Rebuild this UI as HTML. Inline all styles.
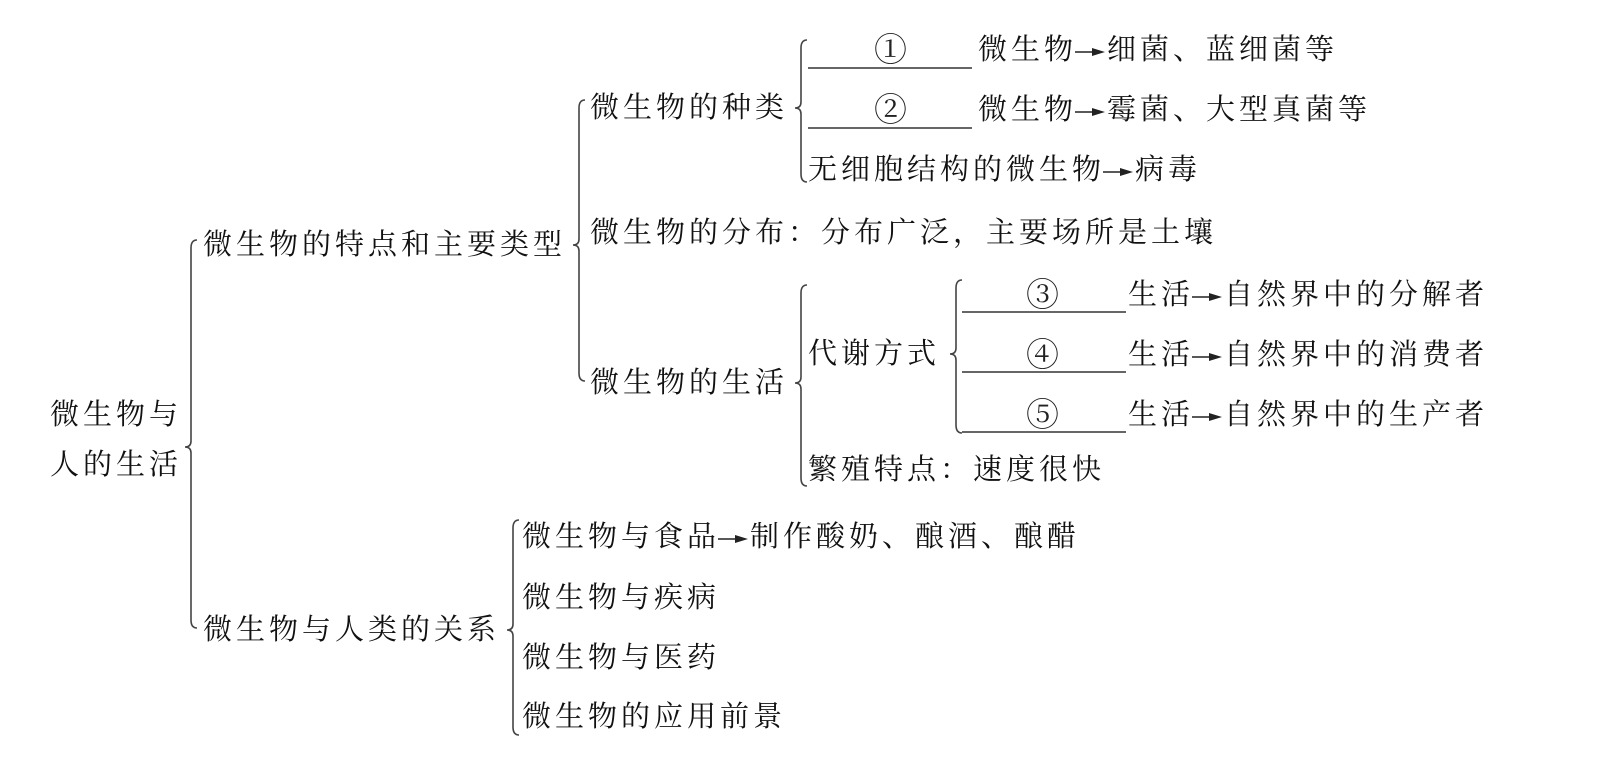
<!DOCTYPE html>
<html><head><meta charset="utf-8"><style>
html,body{margin:0;padding:0;background:#fff;}
body{width:1620px;height:775px;position:relative;overflow:hidden;}
.t{position:absolute;font-family:"Liberation Serif","Noto Serif CJK SC",serif;font-size:29px;letter-spacing:4px;line-height:34px;white-space:nowrap;color:#111;}
.a{display:inline-block;width:32px;height:14px;vertical-align:middle;margin:0 1px 0 -3px;}
.c{position:absolute;font-family:"Noto Serif CJK SC",serif;font-size:33px;line-height:34px;color:#222;}
svg.b{position:absolute;left:0;top:0;}
</style></head><body>
<svg class="b" width="1620" height="775" fill="none" stroke="#444" stroke-width="1.6">
<path d="M197,240 Q191,240 191,248 L191,441 Q191,447 185,447 Q191,447 191,453 L191,620 Q191,628 197,628"/>
<path d="M585,100 Q579,100 579,108 L579,239 Q579,245 573,245 Q579,245 579,251 L579,373 Q579,381 585,381"/>
<path d="M807,40 Q801,40 801,48 L801,102 Q801,108 795,108 Q801,108 801,114 L801,174 Q801,182 807,182"/>
<path d="M807,285 Q801,285 801,293 L801,377 Q801,383 795,383 Q801,383 801,389 L801,478 Q801,486 807,486"/>
<path d="M962,280 Q956,280 956,288 L956,348 Q956,354 950,354 Q956,354 956,360 L956,425 Q956,433 962,433"/>
<path d="M519,520 Q513,520 513,528 L513,624 Q513,630 507,630 Q513,630 513,636 L513,727 Q513,735 519,735"/>
<g stroke="#333" stroke-width="1.5">
<line x1="808" y1="68" x2="972" y2="68"/>
<line x1="808" y1="128" x2="972" y2="128"/>
<line x1="962" y1="312" x2="1126" y2="312"/>
<line x1="962" y1="372" x2="1126" y2="372"/>
<line x1="962" y1="432" x2="1126" y2="432"/>
</g>
</svg>
<div class="t" style="left:50px;top:398px">微生物与</div>
<div class="t" style="left:50px;top:448px">人的生活</div>
<div class="t" style="left:203px;top:228px">微生物的特点和主要类型</div>
<div class="t" style="left:590px;top:91px">微生物的种类</div>
<div class="c" style="left:874px;top:31px">①</div>
<div class="t" style="left:978px;top:33px">微生物<svg class="a" viewBox="0 0 32 14"><line x1="1" y1="7" x2="22" y2="7" stroke="#222" stroke-width="1.4"/><path d="M18,3 L31,7 L18,11 Z" fill="#222"/></svg>细菌、蓝细菌等</div>
<div class="c" style="left:874px;top:91px">②</div>
<div class="t" style="left:978px;top:93px">微生物<svg class="a" viewBox="0 0 32 14"><line x1="1" y1="7" x2="22" y2="7" stroke="#222" stroke-width="1.4"/><path d="M18,3 L31,7 L18,11 Z" fill="#222"/></svg>霉菌、大型真菌等</div>
<div class="t" style="left:808px;top:153px">无细胞结构的微生物<svg class="a" viewBox="0 0 32 14"><line x1="1" y1="7" x2="22" y2="7" stroke="#222" stroke-width="1.4"/><path d="M18,3 L31,7 L18,11 Z" fill="#222"/></svg>病毒</div>
<div class="t" style="left:590px;top:216px">微生物的分布：分布广泛，主要场所是土壤</div>
<div class="t" style="left:590px;top:366px">微生物的生活</div>
<div class="t" style="left:808px;top:337px">代谢方式</div>
<div class="c" style="left:1026px;top:276px">③</div>
<div class="t" style="left:1128px;top:278px">生活<svg class="a" viewBox="0 0 32 14"><line x1="1" y1="7" x2="22" y2="7" stroke="#222" stroke-width="1.4"/><path d="M18,3 L31,7 L18,11 Z" fill="#222"/></svg>自然界中的分解者</div>
<div class="c" style="left:1026px;top:336px">④</div>
<div class="t" style="left:1128px;top:338px">生活<svg class="a" viewBox="0 0 32 14"><line x1="1" y1="7" x2="22" y2="7" stroke="#222" stroke-width="1.4"/><path d="M18,3 L31,7 L18,11 Z" fill="#222"/></svg>自然界中的消费者</div>
<div class="c" style="left:1026px;top:396px">⑤</div>
<div class="t" style="left:1128px;top:398px">生活<svg class="a" viewBox="0 0 32 14"><line x1="1" y1="7" x2="22" y2="7" stroke="#222" stroke-width="1.4"/><path d="M18,3 L31,7 L18,11 Z" fill="#222"/></svg>自然界中的生产者</div>
<div class="t" style="left:808px;top:453px">繁殖特点：速度很快</div>
<div class="t" style="left:203px;top:613px">微生物与人类的关系</div>
<div class="t" style="left:522px;top:520px">微生物与食品<svg class="a" viewBox="0 0 32 14"><line x1="1" y1="7" x2="22" y2="7" stroke="#222" stroke-width="1.4"/><path d="M18,3 L31,7 L18,11 Z" fill="#222"/></svg>制作酸奶、酿酒、酿醋</div>
<div class="t" style="left:522px;top:581px">微生物与疾病</div>
<div class="t" style="left:522px;top:641px">微生物与医药</div>
<div class="t" style="left:522px;top:700px">微生物的应用前景</div>
</body></html>
